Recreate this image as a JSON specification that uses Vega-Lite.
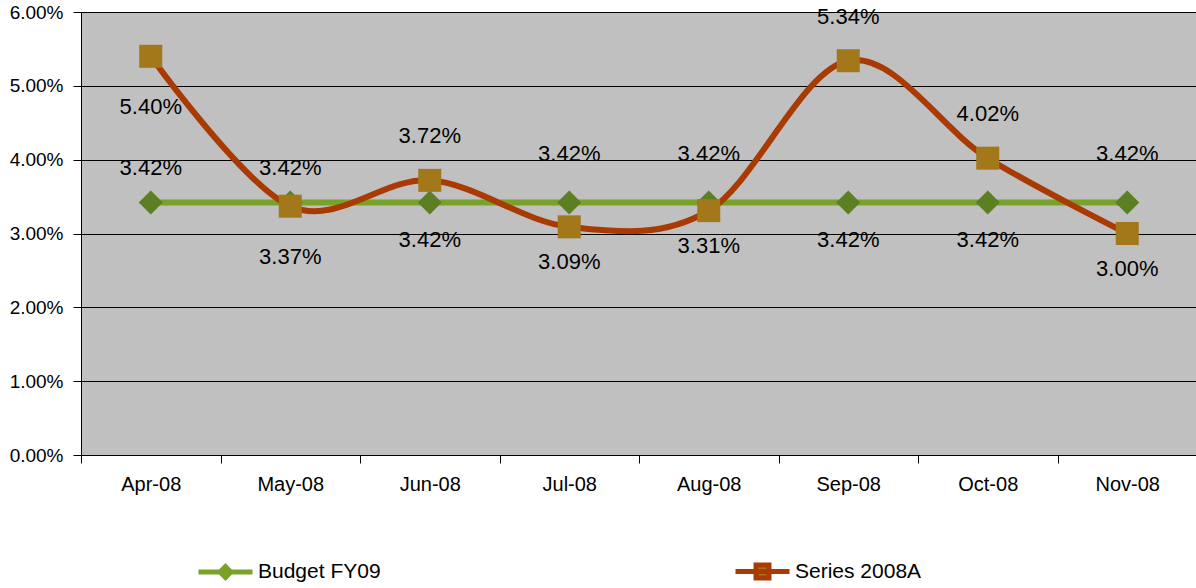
{
  "$schema": "https://vega.github.io/schema/vega-lite/v6.json",
  "width": 1116,
  "height": 443,
  "autosize": {"type": "none"},
  "padding": {"left": 81, "top": 12, "right": 0, "bottom": 133},
  "background": "white",
  "config": {
    "view": {"fill": "#C0C0C0", "stroke": null},
    "font": "Liberation Sans",
    "text": {"fontSize": 22},
    "axis": {"labelFont": "Liberation Sans", "labelColor": "black", "domainColor": "black", "tickColor": "black", "title": null}
  },
  "data": {
    "values": [
      {"month": "Apr-08", "series": "Budget FY09", "value": 0.0342},
      {"month": "May-08", "series": "Budget FY09", "value": 0.0342},
      {"month": "Jun-08", "series": "Budget FY09", "value": 0.0342},
      {"month": "Jul-08", "series": "Budget FY09", "value": 0.0342},
      {"month": "Aug-08", "series": "Budget FY09", "value": 0.0342},
      {"month": "Sep-08", "series": "Budget FY09", "value": 0.0342},
      {"month": "Oct-08", "series": "Budget FY09", "value": 0.0342},
      {"month": "Nov-08", "series": "Budget FY09", "value": 0.0342},
      {"month": "Apr-08", "series": "Series 2008A", "value": 0.0540},
      {"month": "May-08", "series": "Series 2008A", "value": 0.0337},
      {"month": "Jun-08", "series": "Series 2008A", "value": 0.0372},
      {"month": "Jul-08", "series": "Series 2008A", "value": 0.0309},
      {"month": "Aug-08", "series": "Series 2008A", "value": 0.0331},
      {"month": "Sep-08", "series": "Series 2008A", "value": 0.0534},
      {"month": "Oct-08", "series": "Series 2008A", "value": 0.0402},
      {"month": "Nov-08", "series": "Series 2008A", "value": 0.0300}
    ]
  },
  "encoding": {
    "x": {
      "field": "month", "type": "ordinal", "sort": null,
      "scale": {"type": "band", "paddingInner": 0, "paddingOuter": 0},
      "axis": {"tickBand": "extent", "labelAngle": 0, "labelFontSize": 20, "tickSize": 8, "labelPadding": 11, "grid": false, "domainWidth": 1, "tickWidth": 1}
    },
    "y": {
      "field": "value", "type": "quantitative",
      "scale": {"domain": [0, 0.06], "nice": false, "zero": true},
      "axis": {"format": ".2%", "values": [0, 0.01, 0.02, 0.03, 0.04, 0.05, 0.06], "labelFontSize": 19, "tickSize": 8, "labelPadding": 10, "grid": true, "gridColor": "black", "gridWidth": 1, "gridOpacity": 1, "domainWidth": 1}
    }
  },
  "layer": [
    {
      "transform": [{"filter": "datum.series === 'Budget FY09'"}],
      "mark": {"type": "line", "strokeWidth": 6},
      "encoding": {
        "color": {
          "field": "series", "type": "nominal",
          "scale": {"domain": ["Budget FY09", "Series 2008A"], "range": ["#78A22A", "#A83A02"]},
          "legend": {
            "title": null, "orient": "none", "direction": "horizontal",
            "legendX": 115, "legendY": 530, "padding": 0,
            "labelFont": "Liberation Sans", "labelFontSize": 21, "labelColor": "black",
            "symbolSize": 2916, "symbolStrokeWidth": 5, "labelOffset": 3, "columnPadding": 344,
            "encode": {
              "symbols": {
                "update": {
                  "shape": {"signal": "datum.value === 'Budget FY09' ? 'M-1,0H1M0,-0.2L0.2,0L0,0.2L-0.2,0Z' : 'M-1,0H1M-0.24,-0.24H0.24V0.24H-0.24Z'"},
                  "fill": {"signal": "datum.value === 'Budget FY09' ? '#5B7F22' : '#A2781A'"},
                  "opacity": {"value": 1}
                }
              }
            }
          }
        }
      }
    },
    {
      "transform": [{"filter": "datum.series === 'Budget FY09'"}],
      "mark": {"type": "point", "shape": "diamond", "filled": true, "fill": "#5B7F22", "size": 576, "opacity": 1, "strokeWidth": 0}
    },
    {
      "transform": [{"filter": "datum.series === 'Series 2008A'"}],
      "mark": {"type": "line", "strokeWidth": 6, "interpolate": "cardinal"},
      "encoding": {"color": {"field": "series", "type": "nominal"}}
    },
    {
      "transform": [{"filter": "datum.series === 'Series 2008A'"}],
      "mark": {"type": "point", "shape": "square", "filled": true, "fill": "#A2781A", "size": 529, "opacity": 1, "strokeWidth": 0}
    },
    {
      "transform": [{"filter": "datum.series === 'Budget FY09' && indexof(['Apr-08','May-08'], datum.month) >= 0"}],
      "mark": {"type": "text", "fontSize": 22, "color": "black", "baseline": "middle", "dy": -34},
      "encoding": {"text": {"field": "value", "format": ".2%"}}
    },
    {
      "transform": [{"filter": "datum.series === 'Budget FY09' && indexof(['Jul-08','Aug-08','Nov-08'], datum.month) >= 0"}],
      "mark": {"type": "text", "fontSize": 22, "color": "black", "baseline": "middle", "dy": -48},
      "encoding": {"text": {"field": "value", "format": ".2%"}}
    },
    {
      "transform": [{"filter": "datum.series === 'Budget FY09' && indexof(['Jun-08','Sep-08','Oct-08'], datum.month) >= 0"}],
      "mark": {"type": "text", "fontSize": 22, "color": "black", "baseline": "middle", "dy": 38},
      "encoding": {"text": {"field": "value", "format": ".2%"}}
    },
    {
      "transform": [{"filter": "datum.series === 'Series 2008A' && indexof(['Apr-08','May-08'], datum.month) >= 0"}],
      "mark": {"type": "text", "fontSize": 22, "color": "black", "baseline": "middle", "dy": 51},
      "encoding": {"text": {"field": "value", "format": ".2%"}}
    },
    {
      "transform": [{"filter": "datum.series === 'Series 2008A' && indexof(['Jul-08','Aug-08','Nov-08'], datum.month) >= 0"}],
      "mark": {"type": "text", "fontSize": 22, "color": "black", "baseline": "middle", "dy": 35},
      "encoding": {"text": {"field": "value", "format": ".2%"}}
    },
    {
      "transform": [{"filter": "datum.series === 'Series 2008A' && indexof(['Jun-08','Sep-08','Oct-08'], datum.month) >= 0"}],
      "mark": {"type": "text", "fontSize": 22, "color": "black", "baseline": "middle", "dy": -44},
      "encoding": {"text": {"field": "value", "format": ".2%"}}
    }
  ]
}
